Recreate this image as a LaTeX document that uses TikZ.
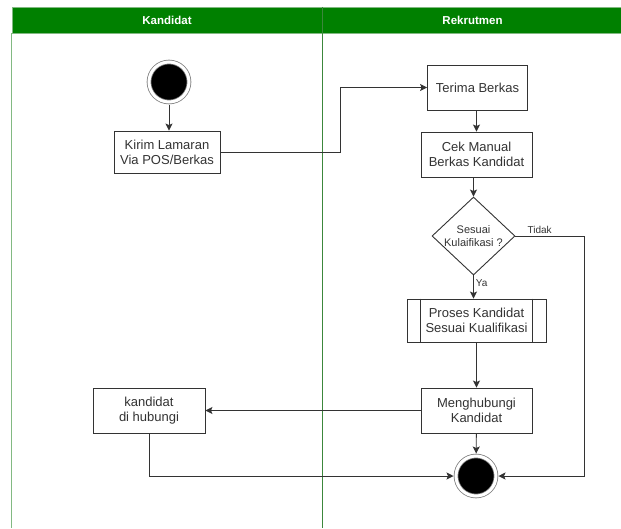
\documentclass[tikz,border=0pt]{standalone}
\usepackage{fontspec}
\setmainfont{Liberation Sans}
\usetikzlibrary{arrows.meta,positioning,shapes.geometric}

\definecolor{lanegreen}{RGB}{0,128,0}
\definecolor{laneline}{RGB}{130,185,130}
\definecolor{lanediv}{RGB}{60,135,60}
\definecolor{inkgray}{RGB}{51,51,51}

\begin{document}
\begin{tikzpicture}[
    x=1pt, y=-1pt,
    lanehead/.style={
        draw=laneline,
        fill=lanegreen,
        text=white,
        inner sep=0pt,
        minimum height=26pt,
        font=\bfseries\fontsize{11.5}{13}\selectfont
    },
    box/.style={
        draw=inkgray,
        fill=white,
        line width=0.9pt,
        align=center,
        inner sep=0pt,
        text=inkgray,
        font=\fontsize{13}{15}\selectfont
    },
    decision/.style={
        diamond,
        draw=inkgray,
        fill=white,
        line width=0.9pt,
        inner sep=0pt,
        minimum width=83pt,
        minimum height=78pt
    },
    state/.style={
        circle,
        fill=black,
        draw=gray,
        double=white,
        double distance=3pt,
        line width=0.8pt,
        minimum size=40pt,
        outer sep=2.5pt
    },
    flow/.style={
        draw=inkgray,
        line width=0.9pt,
        -{Stealth[length=7pt,width=7pt,inset=1.5pt]}
    },
    lbl/.style={
        text=inkgray,
        inner sep=2pt,
        font=\fontsize{10}{12}\selectfont
    }
]
\useasboundingbox (0,0) rectangle (621,528);

% swimlanes
\node[lanehead, minimum width=310pt] (headA) at (167,20) {Kandidat};
\node[lanehead, minimum width=301pt] (headB) at (472.5,20) {Rekrutmen};
\draw[laneline, line width=1pt] (headA.south west) -- (headA.south west |- 0,528);
\draw[lanediv, line width=1.3pt] (headA.north east) -- (headA.north east |- 0,528);

% Kandidat lane
\node[state] (start) at (169,82) {};
\node[box, minimum width=106pt, minimum height=42pt] (kirim) at (167,152) {Kirim Lamaran\\Via POS/Berkas};
\node[box, minimum width=112pt, minimum height=45pt] (dihub) at (149,410.5) {kandidat\\di hubungi};

% Rekrutmen lane
\node[box, minimum width=100pt, minimum height=45pt] (terima) at (477.5,87.5) {Terima Berkas};
\node[box, minimum width=111pt, minimum height=45pt] (cek) at (476.5,154.5) {Cek Manual\\Berkas Kandidat};
\node[decision, label={[lbl, align=center, font=\fontsize{11}{13}\selectfont]center:{Sesuai\\Kulaifikasi ?}}] (qual) at (473.5,236) {};
\node[box, minimum width=139pt, minimum height=43pt] (proses) at (476.5,320.5) {Proses Kandidat\\Sesuai Kualifikasi};
\node[box, minimum width=111pt, minimum height=45pt] (hubungi) at (476.5,410.5) {Menghubungi\\Kandidat};
\node[state] (stop) at (476,476) {};

\draw[inkgray, line width=0.9pt] ([xshift=14pt]proses.north west) -- ([xshift=14pt]proses.south west);
\draw[inkgray, line width=0.9pt] ([xshift=-14pt]proses.north east) -- ([xshift=-14pt]proses.south east);

% connectors
\draw[flow] (start) -- (start |- kirim.north);
\draw[flow] (kirim.east) -- ++(120,0) |- (terima.west);
\draw[flow] (terima.south -| cek.north) -- (cek.north);
\draw[flow] (cek.south -| qual.north) -- (qual.north);
\draw[flow] (qual.south) -- (qual.south |- proses.north) node[lbl, pos=0.35, right] {Ya};
\draw[flow] (qual.east) -- ++(69,0) node[lbl, pos=0.35, above] {Tidak} |- (stop.east);
\draw[flow] (proses.south -| hubungi.north) -- (hubungi.north);
\draw[flow] (hubungi) -- (stop);
\draw[flow] (hubungi.west) -- (dihub.east);
\draw[flow] (dihub.south) |- (stop.west);

\end{tikzpicture}
\end{document}
